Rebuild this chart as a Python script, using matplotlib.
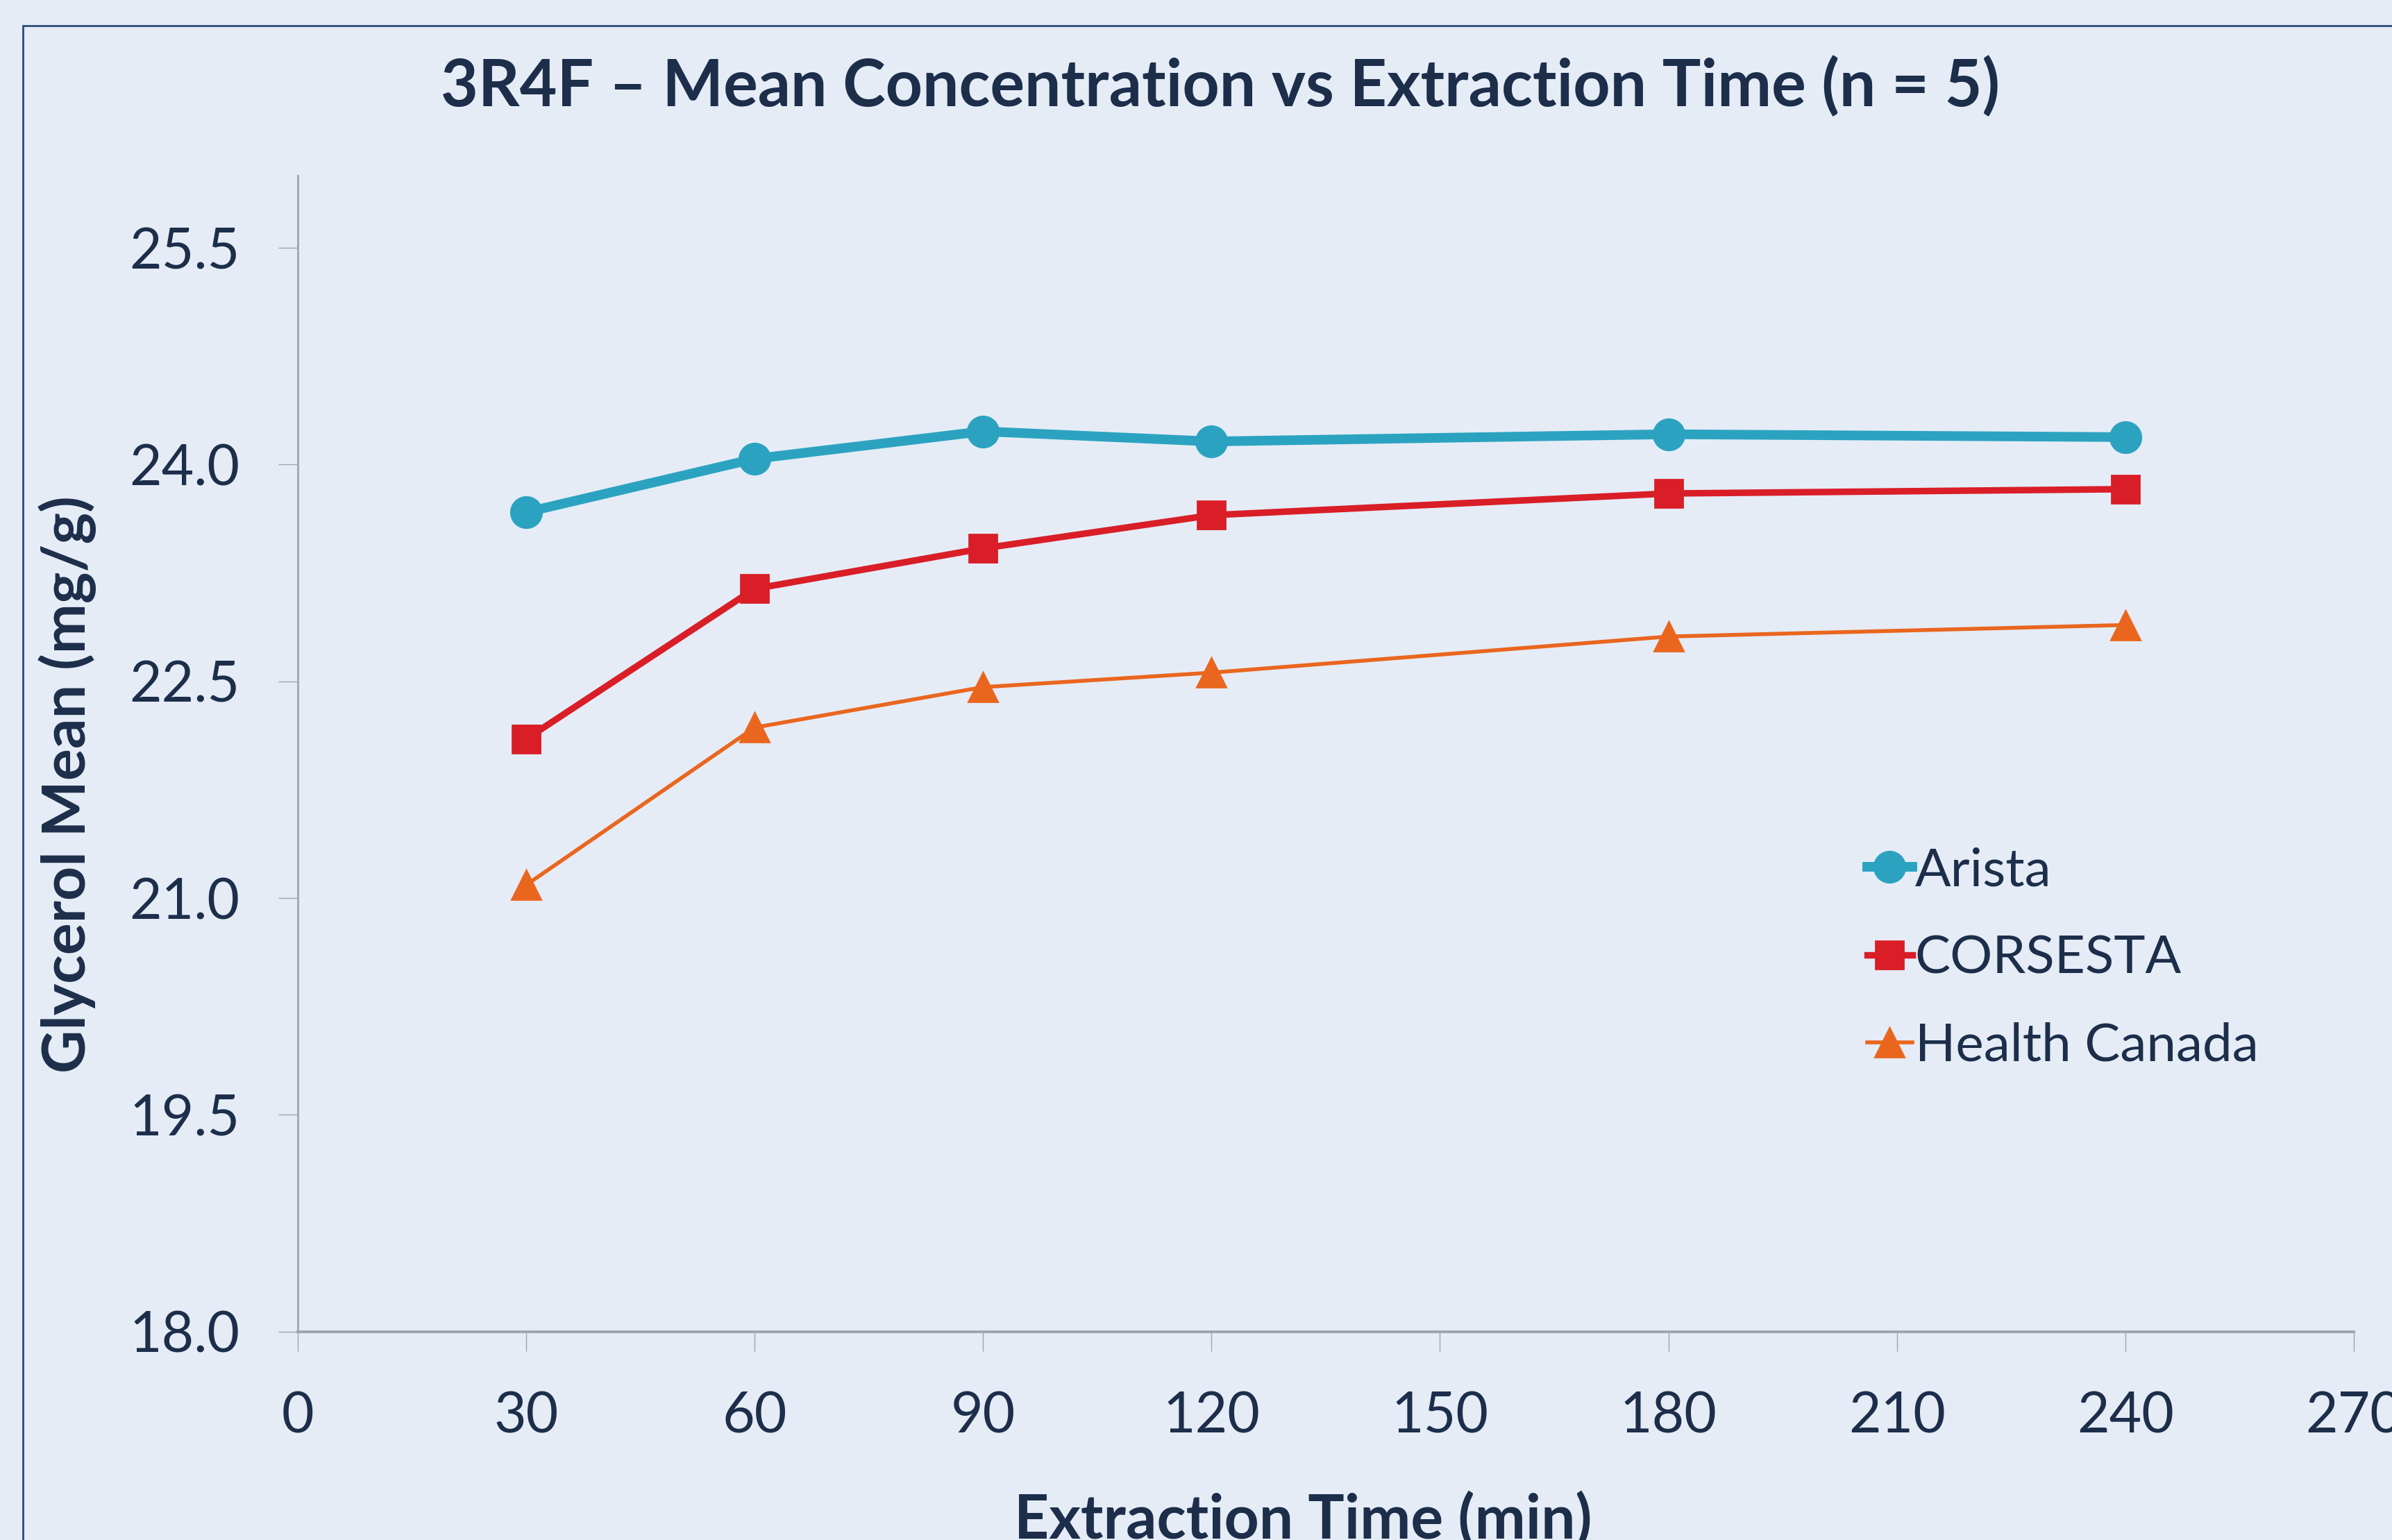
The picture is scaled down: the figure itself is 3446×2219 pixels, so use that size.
import matplotlib
matplotlib.use("Agg")
import matplotlib.pyplot as plt
from matplotlib.patches import Rectangle

# ---- data ----
times = [30, 60, 90, 120, 180, 240]
arista = [23.67, 24.04, 24.23, 24.16, 24.21, 24.19]
corsesta = [22.10, 23.14, 23.42, 23.65, 23.80, 23.83]
health_canada = [21.09, 22.18, 22.46, 22.56, 22.81, 22.89]
series_names = ["Arista", "CORSESTA", "Health Canada"]
x_ticks = [0, 30, 60, 90, 120, 150, 180, 210, 240, 270]
y_ticks = [18.0, 19.5, 21.0, 22.5, 24.0, 25.5]

title = "3R4F \u2013 Mean Concentration vs Extraction Time (n = 5)"
xlabel = "Extraction Time (min)"
ylabel = "Glycerol Mean (mg/g)"

# ---- style ----
BG = "#E5ECF6"
TXT = "#1C2E4A"
AX = "#A0A4AE"
FRAME = "#2B4C7E"
C_AR = "#2BA3C0"
C_CO = "#D91E27"
C_HC = "#EA661E"
FONT = ["Lato", "DejaVu Sans"]
plt.rcParams["font.family"] = FONT

W, H, DPI = 3446, 2219, 200
fig = plt.figure(figsize=(W / DPI, H / DPI), dpi=DPI, facecolor=BG)

# outer frame (top and left visible)
fig.add_artist(Rectangle((33 / W, -0.1), 1.2, 1 - 37 / H + 0.1, transform=fig.transFigure,
                         fill=False, edgecolor=FRAME, linewidth=1.0))

ax = fig.add_axes([428.6 / W, 1 - 1918.7 / H, (3391 - 428.6) / W, (1918.7 - 253) / H])
ax.set_facecolor(BG)

ax.plot(times, arista, color=C_AR, lw=5.0, marker="o", ms=16, label=series_names[0],
        solid_joinstyle="round", zorder=3)
ax.plot(times, corsesta, color=C_CO, lw=3.4, marker="s", ms=14.5, label=series_names[1],
        solid_joinstyle="round", zorder=3)
ax.plot(times, health_canada, color=C_HC, lw=2.0, marker="^", ms=15, label=series_names[2],
        solid_joinstyle="round", zorder=3)

ax.set_xlim(0, 270)
ax.set_ylim(18, 26)
ax.set_xticks(x_ticks)
ax.set_xticklabels([str(v) for v in x_ticks])
ax.set_yticks(y_ticks)
ax.set_yticklabels([f"{v:.1f}" for v in y_ticks])

for s in ["top", "right"]:
    ax.spines[s].set_visible(False)
ax.spines["left"].set_color(AX)
ax.spines["left"].set_linewidth(1.0)
ax.spines["bottom"].set_color(AX)
ax.spines["bottom"].set_linewidth(1.4)

ax.tick_params(axis="both", direction="out", length=10, width=0.5, color=AX,
               labelcolor=TXT, labelsize=29)
ax.tick_params(axis="x", pad=21)
ax.tick_params(axis="y", pad=20)

fig.text(1758 / W, 1 - 125 / H, title, ha="center", va="center", fontsize=33.5,
         fontweight="bold", color=TXT)
fig.text(1877 / W, 1 - 2190 / H, xlabel, ha="center", va="center", fontsize=31.5,
         fontweight="bold", color=TXT)
fig.text(97 / W, 1 - 1130 / H, ylabel, ha="center", va="center", rotation=90,
         fontsize=31, fontweight="bold", color=TXT)

leg = ax.legend(loc="center left", bbox_to_anchor=(2690 / W, 1 - 1381 / H),
                bbox_transform=fig.transFigure, frameon=False, fontsize=27.5,
                handlelength=0.85, handletextpad=0.05, labelspacing=0.75,
                borderaxespad=0, borderpad=0)
for t in leg.get_texts():
    t.set_color(TXT)

fig.savefig("out.png", dpi=DPI, facecolor=BG)
